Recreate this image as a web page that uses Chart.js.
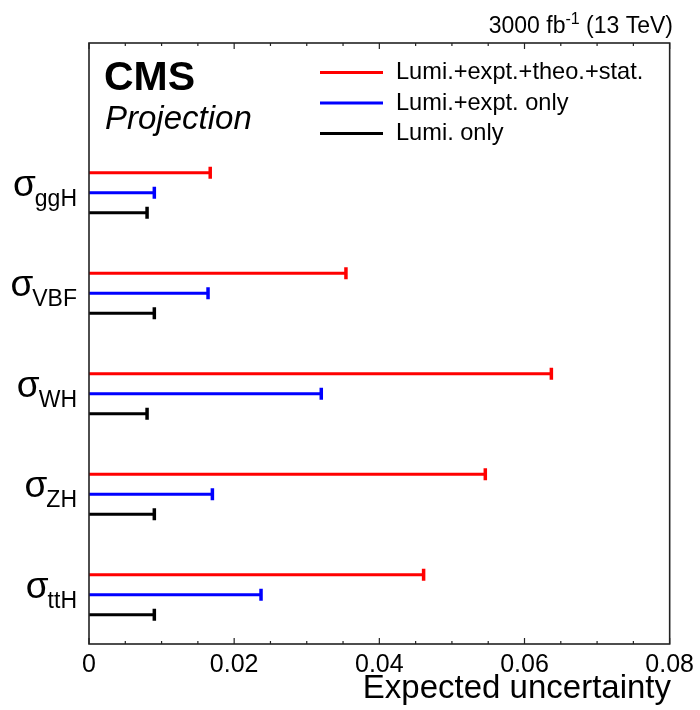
<!DOCTYPE html>
<html>
<head>
<meta charset="utf-8">
<script src="https://cdn.jsdelivr.net/npm/chart.js@4"></script>
<style>
  html, body { margin: 0; padding: 0; background: #fff; }
</style>
</head>
<body>
<canvas id="myChart" width="700" height="710"></canvas>
<script>
'use strict';

// chart data
let categories = ['ggH', 'VBF', 'WH', 'ZH', 'ttH'];
let fullUnc = [0.0167, 0.0354, 0.0637, 0.0546, 0.0461];
let exptUnc = [0.0090, 0.0164, 0.0320, 0.0170, 0.0237];
let lumiUnc = [0.0080, 0.0090, 0.0080, 0.0090, 0.0090];
let seriesLabels = ['Lumi.+expt.+theo.+stat.', 'Lumi.+expt. only', 'Lumi. only'];
let xTickLabels = ['0', '0.02', '0.04', '0.06', '0.08'];

let family = '"Liberation Sans", Arial, Helvetica, sans-serif';

// one horizontal segment per category, broken by a null point
function buildSegments(values, offset) {
  let pts = [];
  for (let i = 0; i < values.length; i++) {
    pts.push({ x: 0, y: i + offset });
    pts.push({ x: values[i], y: i + offset });
    pts.push({ x: null, y: null });
  }
  return pts;
}

function makeSeries(label, values, offset, color) {
  return {
    label: label,
    data: buildSegments(values, offset),
    showLine: true,
    spanGaps: false,
    borderColor: color,
    backgroundColor: color,
    borderWidth: 3,
    pointStyle: 'line',
    rotation: 90,
    pointBorderWidth: 3.5,
    pointBorderColor: color,
    pointRadius: (c) => (c.raw && c.raw.x > 0 ? 6 : 0),
    pointHoverRadius: (c) => (c.raw && c.raw.x > 0 ? 6 : 0)
  };
}

// frame, ticks, labels, legend and CMS texts
const cmsDecor = {
  id: 'cmsDecor',
  afterDraw(chart) {
    const ctx = chart.ctx;
    const area = chart.chartArea;
    const xs = chart.scales.x;
    const ys = chart.scales.y;
    ctx.save();

    ctx.strokeStyle = '#222';
    ctx.lineWidth = 1.6;
    ctx.strokeRect(area.left, area.top, area.right - area.left, area.bottom - area.top);

    ctx.lineWidth = 1.2;
    for (let i = 0; i <= 16; i++) {
      let px = xs.getPixelForValue(i * 0.005);
      let len = i % 4 === 0 ? 6 : 3;
      ctx.beginPath();
      ctx.moveTo(px, area.bottom);
      ctx.lineTo(px, area.bottom - len);
      ctx.moveTo(px, area.top);
      ctx.lineTo(px, area.top + len);
      ctx.stroke();
    }

    // sigma labels
    ctx.fillStyle = '#000';
    ctx.textBaseline = 'alphabetic';
    categories.forEach((name, i) => {
      let cy = ys.getPixelForValue(i);
      ctx.font = '23px ' + family;
      let subW = ctx.measureText(name).width;
      let subX = 77 - subW;
      ctx.textAlign = 'left';
      ctx.fillText(name, subX, cy + 13);
      ctx.font = '37px ' + family;
      ctx.textAlign = 'right';
      ctx.fillText('σ', subX + 1, cy + 3);
    });

    // legend
    let rows = [72.5, 103, 133.5];
    chart.data.datasets.forEach((ds, i) => {
      ctx.strokeStyle = ds.borderColor;
      ctx.lineWidth = 3;
      ctx.beginPath();
      ctx.moveTo(320, rows[i]);
      ctx.lineTo(383, rows[i]);
      ctx.stroke();
      ctx.fillStyle = '#000';
      ctx.font = '23.6px ' + family;
      ctx.textAlign = 'left';
      ctx.fillText(ds.label, 396, rows[i] + 6.5);
    });

    // CMS label
    ctx.font = 'bold 41px ' + family;
    ctx.fillText('CMS', 104, 90);
    ctx.font = 'italic 33px ' + family;
    ctx.fillText('Projection', 105, 129);

    // luminosity label
    let partA = '3000 fb';
    let partB = '-1';
    let partC = ' (13 TeV)';
    ctx.font = '23px ' + family;
    let wA = ctx.measureText(partA).width;
    let wC = ctx.measureText(partC).width;
    ctx.font = '16px ' + family;
    let wB = ctx.measureText(partB).width;
    let x0 = 673 - wA - wB - wC;
    ctx.font = '23px ' + family;
    ctx.fillText(partA, x0, 33);
    ctx.font = '16px ' + family;
    ctx.fillText(partB, x0 + wA, 24);
    ctx.font = '23px ' + family;
    ctx.fillText(partC, x0 + wA + wB, 33);

    // axis title
    ctx.font = '33px ' + family;
    ctx.textAlign = 'right';
    ctx.fillText('Expected uncertainty', 671, 698);

    ctx.restore();
  }
};

let ctx = document.getElementById('myChart').getContext('2d');
let myChart = new Chart(ctx, {
  type: 'scatter',
  data: {
    datasets: [
      makeSeries(seriesLabels[0], fullUnc, -0.2, '#ff0000'),
      makeSeries(seriesLabels[1], exptUnc, 0, '#0000ff'),
      makeSeries(seriesLabels[2], lumiUnc, 0.2, '#000000')
    ]
  },
  options: {
    responsive: false,
    animation: false,
    events: [],
    layout: {
      padding: { left: 89, top: 43, right: 29, bottom: 0 }
    },
    plugins: {
      legend: { display: false },
      tooltip: { enabled: false }
    },
    scales: {
      x: {
        type: 'linear',
        min: 0,
        max: 0.08,
        grid: { display: false, drawTicks: false },
        border: { display: false },
        ticks: {
          stepSize: 0.02,
          color: '#000',
          padding: 6,
          maxRotation: 0,
          font: { size: 25, family: family },
          callback: (val, i) => xTickLabels[i]
        },
        afterFit: (scale) => { scale.height = 66; }
      },
      y: {
        type: 'linear',
        display: false,
        reverse: true,
        min: -1.49,
        max: 4.49
      }
    }
  },
  plugins: [cmsDecor]
});
</script>
</body>
</html>
